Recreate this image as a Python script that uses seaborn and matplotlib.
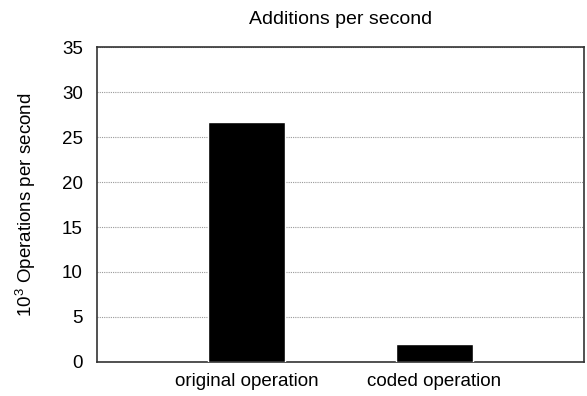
import seaborn as sns
import pandas as pd
import matplotlib.pyplot as plt

# values
operations = ['original operation', 'coded operation']
ops_per_sec = [26.7, 2.0]   # in 10^3 operations per second

df = pd.DataFrame({'operation': operations, 'ops': ops_per_sec})

sns.set_style("white")
plt.rcParams['font.family'] = ['Liberation Sans', 'DejaVu Sans']
plt.rcParams['mathtext.fontset'] = 'custom'
plt.rcParams['mathtext.rm'] = 'Liberation Sans'
plt.rcParams['mathtext.default'] = 'regular'
plt.rcParams['text.color'] = 'black'
plt.rcParams['axes.labelcolor'] = 'black'
plt.rcParams['xtick.color'] = 'black'
plt.rcParams['ytick.color'] = 'black'

fig, ax = plt.subplots(figsize=(5.87, 3.96), dpi=100)
fig.subplots_adjust(left=0.165, right=0.995, top=0.881, bottom=0.086)

sns.barplot(data=df, x='operation', y='ops', color='black', width=0.41,
            saturation=1, ax=ax, zorder=3)

ax.set_xlim(-0.8, 1.8)
ax.set_ylim(0, 35)
ax.set_yticks(range(0, 36, 5))
ax.yaxis.grid(True, linestyle=(0, (1, 1)), color='#999999', linewidth=0.8, zorder=0)
ax.set_axisbelow(True)
ax.tick_params(length=0, labelsize=13.5)
ax.tick_params(axis='y', pad=10)
ax.tick_params(axis='x', pad=8)

ax.set_xlabel('')
ax.set_ylabel(r'$10^3$ Operations per second', fontsize=13.5, labelpad=17)
ax.set_title('Additions per second', fontsize=14, pad=17)

for s in ax.spines.values():
    s.set_color('#333333')
    s.set_linewidth(1.2)

plt.savefig('out.png', dpi=100)
